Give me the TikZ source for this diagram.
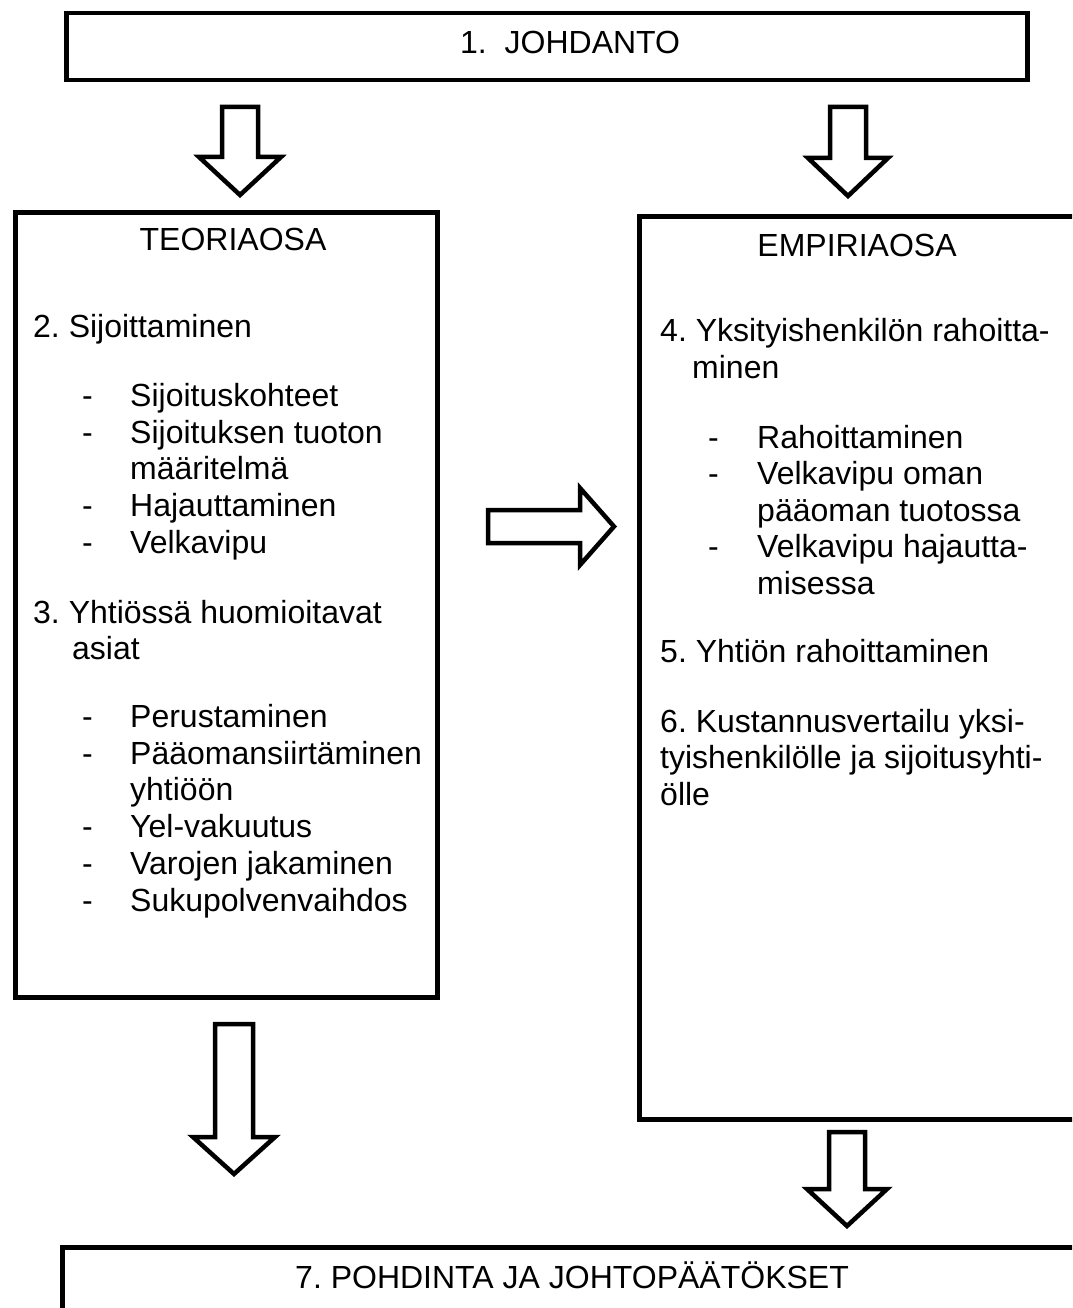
\documentclass[tikz,border=0pt]{standalone}
\usepackage{fontspec}
\setmainfont{Liberation Sans}
\frenchspacing
\begin{document}
\begin{tikzpicture}[x=1pt,y=-1pt,
  box/.style={draw,line width=4.5pt,inner sep=0pt,anchor=north west},
  barrow/.style={draw,line width=4.5pt,fill=white,line join=miter},
  txt/.style={inner sep=0pt,anchor=base west,font=\fontsize{32}{36.8}\selectfont},
  ctxt/.style={txt,anchor=base}]
\useasboundingbox (0,0) rectangle (1072,1308);
\clip (0,0) rectangle (1072,1308);
\fill[white] (0,0) rectangle (1072,1308);

% boxes
\node[box,minimum width=961pt,minimum height=67pt] (intro) at (64,11) {};
\node[box,minimum width=422pt,minimum height=785pt] (theory) at (13,210) {};
\node[box,minimum width=500pt,minimum height=903pt] (empiria) at (637,214) {};
\node[box,minimum width=1100pt,minimum height=200pt] (concl) at (60,1245) {};

% block arrows
\draw[barrow] (222,107) -- (258,107) -- (258,157) -- (281,157) -- (240,195) -- (199,157) -- (222,157) -- cycle;
\draw[barrow] (830,107) -- (866,107) -- (866,158) -- (888,158) -- (848,196) -- (808,158) -- (830,158) -- cycle;
\draw[barrow] (488,510) -- (580,510) -- (580,488) -- (614,526.5) -- (580,565) -- (580,543) -- (488,543) -- cycle;
\draw[barrow] (215,1024) -- (253,1024) -- (253,1137) -- (275,1137) -- (234,1174) -- (193,1137) -- (215,1137) -- cycle;
\draw[barrow] (829,1132) -- (865,1132) -- (865,1189) -- (887,1189) -- (847,1226) -- (807,1189) -- (829,1189) -- cycle;

% texts
\node[txt] (t1) at (460,54) {1.\ \ JOHDANTO};
\node[ctxt] (t2) at (233,250) {TEORIAOSA};
\node[txt] (l1) at (33,337) {2. Sijoittaminen};
\node[txt] (d1) at (82,406) {-};
\node[txt] (l2) at (130,406) {Sijoituskohteet};
\node[txt] (d2) at (82,443) {-};
\node[txt] (l3) at (130,443) {Sijoituksen tuoton};
\node[txt] (l4) at (130,479) {määritelmä};
\node[txt] (d3) at (82,516) {-};
\node[txt] (l5) at (130,516) {Hajauttaminen};
\node[txt] (d4) at (82,553) {-};
\node[txt] (l6) at (130,553) {Velkavipu};
\node[txt] (l7) at (33,623) {3. Yhtiössä huomioitavat};
\node[txt] (l8) at (72,659) {asiat};
\node[txt] (d5) at (82,727) {-};
\node[txt] (l9) at (130,727) {Perustaminen};
\node[txt] (d6) at (82,764) {-};
\node[txt] (l10) at (130,764) {Pääomansiirtäminen};
\node[txt] (l11) at (130,800) {yhtiöön};
\node[txt] (d7) at (82,837) {-};
\node[txt] (l12) at (130,837) {Yel-vakuutus};
\node[txt] (d8) at (82,874) {-};
\node[txt] (l13) at (130,874) {Varojen jakaminen};
\node[txt] (d9) at (82,911) {-};
\node[txt] (l14) at (130,911) {Sukupolvenvaihdos};

\node[ctxt] (t3) at (857,256) {EMPIRIAOSA};
\node[txt] (r1) at (660,341) {4. Yksityishenkilön rahoitta-};
\node[txt] (r2) at (692,378) {minen};
\node[txt] (e1) at (708,448) {-};
\node[txt] (r3) at (757,448) {Rahoittaminen};
\node[txt] (e2) at (708,484) {-};
\node[txt] (r4) at (757,484) {Velkavipu oman};
\node[txt] (r5) at (757,521) {pääoman tuotossa};
\node[txt] (e3) at (708,557) {-};
\node[txt] (r6) at (757,557) {Velkavipu hajautta-};
\node[txt] (r7) at (757,594) {misessa};
\node[txt] (r8) at (660,662) {5. Yhtiön rahoittaminen};
\node[txt] (r9) at (660,732) {6. Kustannusvertailu yksi-};
\node[txt] (r10) at (660,768) {tyishenkilölle ja sijoitusyhti-};
\node[txt] (r11) at (660,805) {ölle};

\node[ctxt] (t4) at (572,1288) {7. POHDINTA JA JOHTOPÄÄTÖKSET};
\end{tikzpicture}
\end{document}
